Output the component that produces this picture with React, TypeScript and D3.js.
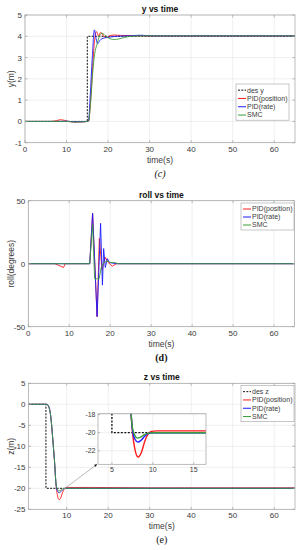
import React from 'react';
import * as d3 from 'd3';

// ---------- data: y vs time ----------
const yDesT = [0, 15, 15, 65];
const yDesV = [0, 0, 4, 4];
const yPosT = [0, 6, 7.5, 8.5, 9.5, 10.5, 12, 14, 15, 15.3, 15.8, 16.3, 16.8, 17.2, 17.7, 18.2, 19, 19.6, 20.5, 21.5, 23, 26, 30, 40, 50, 65];
const yPosV = [0, 0, 0.03, 0.08, 0.05, 0, -0.03, -0.02, 0, 0.02, 1.0, 2.6, 3.9, 4.22, 4.02, 4.18, 4.0, 3.94, 4.03, 4.06, 4.04, 4.03, 4.02, 4.02, 4.02, 4.02];
const yRateT = [0, 8, 10, 12, 14, 15, 15.3, 15.7, 16.2, 16.7, 17.1, 17.5, 18, 19, 20, 22, 25, 28, 30, 40, 65];
const yRateV = [0, 0, 0.01, -0.02, -0.01, 0, 0.02, 1.2, 3.0, 4.3, 3.9, 3.65, 3.8, 3.92, 3.95, 4.0, 4.02, 4.05, 4.02, 4.02, 4.02];
const ySmcT = [0, 8, 10, 12, 14, 15, 15.3, 15.8, 16.3, 16.8, 17.3, 17.8, 18.5, 19.5, 20.5, 21.5, 22.5, 24, 26, 30, 65];
const ySmcV = [0, 0, 0, -0.03, -0.02, 0, 0.02, 0.9, 2.3, 3.2, 3.6, 3.95, 4.15, 4.0, 3.88, 3.85, 3.87, 3.95, 4.01, 4.02, 4.02];

// ---------- data: roll vs time ----------
const rPosT = [0, 6.5, 8.6, 9.0, 15, 15.7, 16.8, 17.35, 18.0, 18.8, 19.5, 20.5, 21.5, 23, 65];
const rPosV = [0, 0, -3, 0, 0, 40, -42, 20, -5, 5, 1, -2, 0, 0, 0];
const rRateT = [0, 15, 15.7, 16.8, 17.65, 18.1, 18.4, 18.8, 19.3, 19.8, 20.5, 21.5, 65];
const rRateV = [0, 0, 40, -42, 32, -17, 12, -3, 4, 1, 0.5, 0, 0];
const rSmcT = [0, 15.0, 15.7, 16.2, 17.3, 17.8, 18.5, 19.3, 20, 21, 22, 65];
const rSmcV = [0, 0, 31, -12, -12, -3, 1, 2, 1, 1, 0, 0];

// ---------- data: z vs time ----------
const zDesT = [0.8, 5, 5, 65];
const zDesV = [0, 0, -20, -20];
const zPosT = [0.8, 5.2, 5.6, 5.9, 6.2, 6.5, 6.8, 7.1, 7.3, 7.5, 7.8, 8.2, 8.6, 9.0, 9.4, 9.8, 10.5, 16, 30, 65];
const zPosV = [0, 0, -0.4, -1.3, -3.2, -6.5, -10.2, -14, -17.3, -19.8, -21.8, -22.7, -22.2, -21, -20.2, -19.85, -19.8, -19.8, -19.9, -19.9];
const zRateT = [0.8, 5.2, 5.6, 5.9, 6.2, 6.5, 6.8, 7.1, 7.3, 7.5, 7.8, 8.2, 8.6, 9.0, 9.4, 10, 16, 65];
const zRateV = [0, 0, -0.4, -1.3, -3.2, -6.5, -10.2, -14, -17.3, -19.6, -20.7, -21.05, -20.8, -20.4, -20.1, -20, -20, -20];
const zSmcT = [0.8, 5.2, 5.6, 5.9, 6.2, 6.5, 6.8, 7.1, 7.3, 7.5, 7.8, 8.1, 8.5, 9.0, 9.5, 10, 16, 65];
const zSmcV = [0, 0, -0.4, -1.3, -3.2, -6.5, -10.2, -14, -17.3, -19.4, -20.3, -20.6, -20.5, -20.2, -20.05, -20, -20, -20];

// ---------- ticks & labels ----------
const xTicksFull = [0, 10, 20, 30, 40, 50, 60];
const xTicksZ = [10, 20, 30, 40, 50, 60];
const yTicksY = [-1, 0, 1, 2, 3, 4, 5];
const yTicksRoll = [-50, 0, 50];
const yTicksZ = [-25, -20, -15, -10, -5, 0, 5];
const insetXTicks = [5, 10, 15];
const insetYTicks = [-22, -20, -18];
const legendY = ['des y', 'PID(position)', 'PID(rate)', 'SMC'];
const legendRoll = ['PID(position)', 'PID(rate)', 'SMC'];
const legendZ = ['des z', 'PID(position)', 'PID(rate)', 'SMC'];

const RED = '#ff1a1a';
const BLUE = '#1a1aff';
const GREEN = '#3a9e3a';
const BLACK = '#111';
const AXIS = '#a0a0a0';
const GRID = '#e4e4e4';
const TXT = '#3a3a3a';
const FONT = 'Liberation Sans, Arial, sans-serif';

type Series = { t: number[]; v: number[]; color: string; dash?: string; width?: number; curve?: any };

function zip(t: number[], v: number[]) {
  return t.map((x, i) => [x, v[i]] as [number, number]);
}

function Panel(props: {
  id: string; left: number; right: number; top: number; bottom: number;
  xDomain: [number, number]; yDomain: [number, number];
  xTicks: number[]; yTicks: number[]; series: Series[];
  title: string; ylabel: string; caption: string; captionStyle: any;
  legend: { labels: string[]; styles: Series[]; x: number; y: number; w: number; row: number };
  tickFont?: number;
  children?: any;
}) {
  const { id, left, right, top, bottom, xDomain, yDomain, xTicks, yTicks, series, title, ylabel, caption, captionStyle, legend } = props;
  const x = d3.scaleLinear().domain(xDomain).range([left, right]);
  const y = d3.scaleLinear().domain(yDomain).range([bottom, top]);
  const fs = props.tickFont || 8;
  const tl = 2.5;
  const lh = legend.row;
  const lgH = legend.labels.length * lh + 3;
  return (
    <g>
      <defs>
        <clipPath id={id}>
          <rect x={left} y={top} width={right - left} height={bottom - top} />
        </clipPath>
      </defs>
      <rect x={left} y={top} width={right - left} height={bottom - top} fill="#fff" />
      {xTicks.map((t) => (
        <line key={'gx' + t} x1={x(t)} x2={x(t)} y1={top} y2={bottom} stroke={GRID} strokeWidth={0.6} />
      ))}
      {yTicks.map((t) => (
        <line key={'gy' + t} x1={left} x2={right} y1={y(t)} y2={y(t)} stroke={GRID} strokeWidth={0.6} />
      ))}
      <g clipPath={`url(#${id})`}>
        {series.map((s, i) => {
          const line = d3.line<[number, number]>().x((d) => x(d[0])).y((d) => y(d[1])).curve(s.curve || d3.curveLinear);
          return (
            <path key={i} d={line(zip(s.t, s.v)) || ''} fill="none" stroke={s.color}
              strokeWidth={s.width || 0.9} strokeDasharray={s.dash} strokeLinejoin="round" />
          );
        })}
      </g>
      <rect x={left} y={top} width={right - left} height={bottom - top} fill="none" stroke={AXIS} strokeWidth={0.7} />
      {xTicks.map((t) => (
        <g key={'tx' + t}>
          <line x1={x(t)} x2={x(t)} y1={bottom} y2={bottom - tl} stroke={AXIS} strokeWidth={0.7} />
          <line x1={x(t)} x2={x(t)} y1={top} y2={top + tl} stroke={AXIS} strokeWidth={0.7} />
          <text x={x(t)} y={bottom + 9} fontSize={fs} fill={TXT} textAnchor="middle" fontFamily={FONT}>{t}</text>
        </g>
      ))}
      {yTicks.map((t) => (
        <g key={'ty' + t}>
          <line x1={left} x2={left + tl} y1={y(t)} y2={y(t)} stroke={AXIS} strokeWidth={0.7} />
          <line x1={right} x2={right - tl} y1={y(t)} y2={y(t)} stroke={AXIS} strokeWidth={0.7} />
          <text x={left - 3} y={y(t) + 3} fontSize={fs} fill={TXT} textAnchor="end" fontFamily={FONT}>{t}</text>
        </g>
      ))}
      <text x={(left + right) / 2} y={top - 3} fontSize={8.5} fontWeight="bold" fill="#111" textAnchor="middle" fontFamily={FONT}>{title}</text>
      <text x={(left + right) / 2} y={bottom + 20} fontSize={8.5} fill={TXT} textAnchor="middle" fontFamily={FONT}>time(s)</text>
      <text transform={`translate(${14},${(top + bottom) / 2}) rotate(-90)`} fontSize={8.5} fill={TXT} textAnchor="middle" fontFamily={FONT}>{ylabel}</text>
      <text x={(left + right) / 2} y={bottom + 34} fontSize={10} fill="#111" textAnchor="middle" fontFamily="Liberation Serif, serif" {...captionStyle}>{caption}</text>
      {props.children ? props.children(x, y) : null}
      <g>
        <rect x={legend.x} y={legend.y} width={legend.w} height={lgH} fill="#fff" stroke={AXIS} strokeWidth={0.6} />
        {legend.labels.map((lab, i) => {
          const cy = legend.y + 2 + lh * (i + 0.5);
          const s = legend.styles[i];
          return (
            <g key={lab}>
              <line x1={legend.x + 2} x2={legend.x + 10} y1={cy} y2={cy} stroke={s.color} strokeWidth={s.width || 1} strokeDasharray={s.dash} />
              <text x={legend.x + 11} y={cy + 2.4} fontSize={7} fill={TXT} fontFamily={FONT}>{lab}</text>
            </g>
          );
        })}
      </g>
    </g>
  );
}

export default function App() {
  const mono = d3.curveMonotoneX;
  const desStyle = { color: BLACK, dash: '2,1.3', width: 1 };
  const ySeries: Series[] = [
    { t: yDesT, v: yDesV, ...desStyle },
    { t: yPosT, v: yPosV, color: RED, curve: mono },
    { t: yRateT, v: yRateV, color: BLUE, curve: mono },
    { t: ySmcT, v: ySmcV, color: GREEN, curve: mono },
  ];
  const rSeries: Series[] = [
    { t: rPosT, v: rPosV, color: RED },
    { t: rRateT, v: rRateV, color: BLUE },
    { t: rSmcT, v: rSmcV, color: GREEN },
  ];
  const zSeries: Series[] = [
    { t: zDesT, v: zDesV, ...desStyle },
    { t: zPosT, v: zPosV, color: RED, curve: mono },
    { t: zRateT, v: zRateV, color: BLUE, curve: mono },
    { t: zSmcT, v: zSmcV, color: GREEN, curve: mono },
  ];
  const zInsetSeries: Series[] = [
    { t: zDesT, v: zDesV, color: BLACK, dash: '2,1.5', width: 1.3 },
    { t: zPosT, v: zPosV, color: RED, curve: mono, width: 1.4 },
    { t: zRateT, v: zRateV, color: BLUE, curve: mono, width: 1.4 },
    { t: zSmcT, v: zSmcV, color: GREEN, curve: mono, width: 1.4 },
  ];

  const inset = (mx: any, my: any) => {
    const L = 98, R = 206, T = 413.7, B = 464.3;
    const ix = d3.scaleLinear().domain([3.3, 16.5]).range([L, R]);
    const iy = d3.scaleLinear().domain([-23.5, -17.9]).range([B, T]);
    const sx = mx(8.1), sy = my(-21.1);
    const ex = L - 1, ey = B;
    const ang = Math.atan2(ey - sy, ex - sx);
    const ah = 3;
    const p1 = [ex - ah * Math.cos(ang - 0.5), ey - ah * Math.sin(ang - 0.5)];
    const p2 = [ex - ah * Math.cos(ang + 0.5), ey - ah * Math.sin(ang + 0.5)];
    return (
      <g>
        <line x1={sx} y1={sy} x2={ex} y2={ey} stroke="#999" strokeWidth={0.7} />
        <polygon points={`${ex},${ey} ${p1[0]},${p1[1]} ${p2[0]},${p2[1]}`} fill="#111" />
        <defs>
          <clipPath id="insetClip"><rect x={L} y={T} width={R - L} height={B - T} /></clipPath>
        </defs>
        <rect x={L} y={T} width={R - L} height={B - T} fill="#fff" />
        {insetXTicks.map((t) => (
          <line key={'igx' + t} x1={ix(t)} x2={ix(t)} y1={T} y2={B} stroke={GRID} strokeWidth={0.6} />
        ))}
        {insetYTicks.map((t) => (
          <line key={'igy' + t} x1={L} x2={R} y1={iy(t)} y2={iy(t)} stroke={GRID} strokeWidth={0.6} />
        ))}
        <g clipPath="url(#insetClip)">
          {zInsetSeries.map((s, i) => {
            const line = d3.line<[number, number]>().x((d) => ix(d[0])).y((d) => iy(d[1])).curve(s.curve || d3.curveLinear);
            return <path key={i} d={line(zip(s.t, s.v)) || ''} fill="none" stroke={s.color} strokeWidth={s.width || 1} strokeDasharray={s.dash} />;
          })}
        </g>
        <rect x={L} y={T} width={R - L} height={B - T} fill="none" stroke={AXIS} strokeWidth={0.7} />
        {insetXTicks.map((t) => (
          <g key={'itx' + t}>
            <line x1={ix(t)} x2={ix(t)} y1={B} y2={B - 2} stroke={AXIS} strokeWidth={0.7} />
            <text x={ix(t)} y={B + 8} fontSize={7} fill={TXT} textAnchor="middle" fontFamily={FONT}>{t}</text>
          </g>
        ))}
        {insetYTicks.map((t) => (
          <g key={'ity' + t}>
            <line x1={L} x2={L + 2} y1={iy(t)} y2={iy(t)} stroke={AXIS} strokeWidth={0.7} />
            <text x={L - 2.5} y={iy(t) + 2.5} fontSize={7} fill={TXT} textAnchor="end" fontFamily={FONT}>{t}</text>
          </g>
        ))}
      </g>
    );
  };

  return (
    <svg width={303} height={550} style={{ position: 'absolute', left: 0, top: 0, background: '#fff' }}>
      <rect width={303} height={550} fill="#fff" />
      <Panel id="p1" left={25} right={295} top={15} bottom={142.7} xDomain={[0, 65]} yDomain={[-1, 5]}
        xTicks={xTicksFull} yTicks={yTicksY} series={ySeries} title="y vs time" ylabel="y(m)"
        caption="(c)" captionStyle={{ fontStyle: 'italic' }}
        legend={{ labels: legendY, styles: ySeries, x: 236, y: 84, w: 53, row: 8.3 }} />
      <Panel id="p2" left={28.3} right={294.5} top={200.7} bottom={326.7} xDomain={[0, 65]} yDomain={[-50, 50]}
        xTicks={xTicksFull} yTicks={yTicksRoll} series={rSeries} title="roll vs time" ylabel="roll(degrees)"
        caption="(d)" captionStyle={{ fontWeight: 'bold' }}
        legend={{ labels: legendRoll, styles: rSeries, x: 241, y: 203, w: 53, row: 8 }} />
      <Panel id="p3" left={28.5} right={295} top={383.3} bottom={509.3} xDomain={[0.8, 65]} yDomain={[-25, 5]}
        xTicks={xTicksZ} yTicks={yTicksZ} series={zSeries} title="z vs time" ylabel="z(m)"
        caption="(e)" captionStyle={{}}
        legend={{ labels: legendZ, styles: zSeries, x: 241, y: 385.5, w: 53, row: 8.3 }}>
        {inset}
      </Panel>
    </svg>
  );
}
